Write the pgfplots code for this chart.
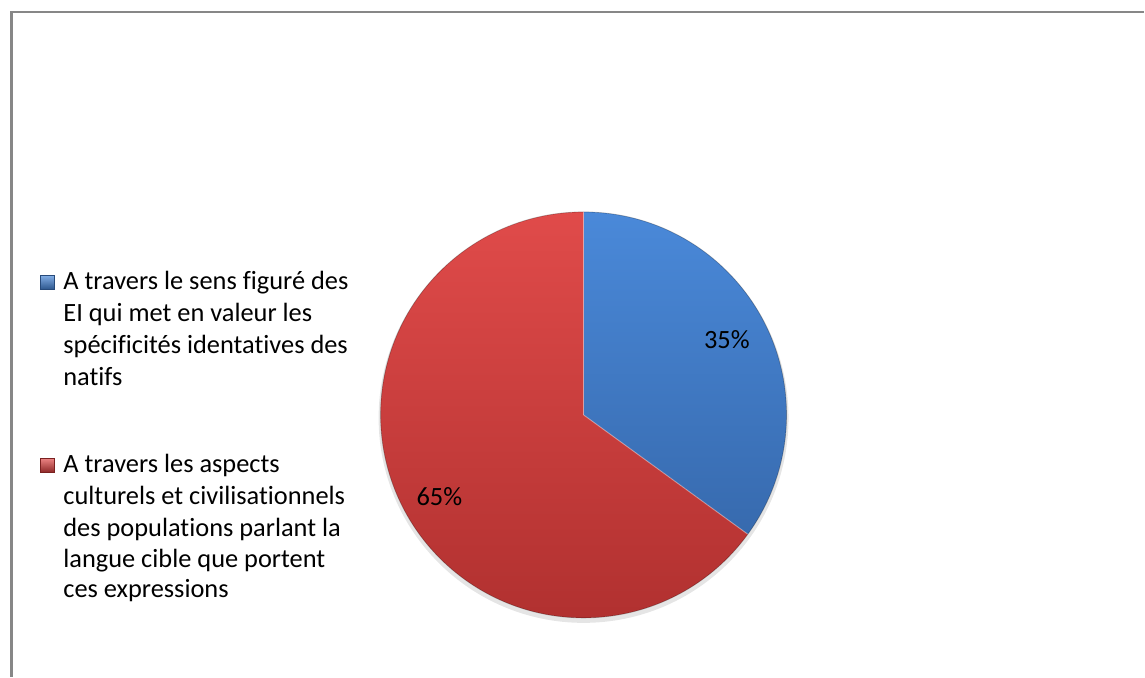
\documentclass[border=0pt]{standalone}
\usepackage{pgfplots}
\pgfplotsset{compat=1.18}
\usepackage{pgfplotstable}
\usepackage{fontspec}
\setmainfont{Carlito}[RawFeature={-liga;-clig;-dlig;-calt}]
\definecolor{framegray}{HTML}{878787}
\definecolor{bluetop}{HTML}{4A89D9}
\definecolor{bluebot}{HTML}{376AAE}
\definecolor{redtop}{HTML}{E04B4A}
\definecolor{redbot}{HTML}{AE2F2E}
\pgfplotstableread{
idx value
0 35
1 65
}\piedata
\begin{document}
\pgfplotstablegetelem{0}{value}\of\piedata \let\va\pgfplotsretval
\pgfplotstablegetelem{1}{value}\of\piedata \let\vb\pgfplotsretval
\pgfmathsetmacro{\aEnd}{90-3.6*\va}
\pgfmathsetmacro{\bEnd}{\aEnd-3.6*\vb}
\begin{tikzpicture}
\begin{axis}[scale only axis, width=1145bp, height=680bp,
  xmin=0, xmax=1145, ymin=0, ymax=680, hide axis, clip=false]
\path (axis cs:0,0) rectangle (axis cs:1145,680);
% frame
\draw[framegray, line width=2.5bp] (axis cs:7,0) -- (axis cs:7,668) -- (axis cs:1145,668);
% shadow
\fill[black, opacity=0.10] (axis cs:582,260) circle[radius=206bp];
% blue wedge
\shade[top color=bluetop, bottom color=bluebot]
  (axis cs:582,263) -- ++(90:204bp) arc[start angle=90, end angle=\aEnd, radius=204bp] -- cycle;
% red wedge
\shade[top color=redtop, bottom color=redbot]
  (axis cs:582,263) -- ++(\aEnd:204bp) arc[start angle=\aEnd, end angle=\bEnd, radius=204bp] -- cycle;
% separators highlight
\draw[white, opacity=0.35, line width=1bp] (axis cs:582,263) -- ++(90:204bp);
\draw[white, opacity=0.35, line width=1bp] (axis cs:582,263) -- ++(\aEnd:204bp);
\draw[black, opacity=0.25, line width=0.8bp] (axis cs:582,263) circle[radius=204bp];
% labels
\node[anchor=base, font=\fontsize{26.5bp}{32bp}\selectfont] at (axis cs:726,330) {\va\%};
\node[anchor=base, font=\fontsize{26.5bp}{32bp}\selectfont] at (axis cs:437,172) {\vb\%};
% legend markers
\shade[top color=bluetop!70!white, bottom color=bluebot!80!black, draw=bluebot!70!black, line width=0.4bp]
  (axis cs:36,389) rectangle (axis cs:50,403);
\shade[top color=redtop!70!white, bottom color=redbot!80!black, draw=redbot!70!black, line width=0.4bp]
  (axis cs:36,205) rectangle (axis cs:50,219);
% legend text
\begin{scope}[every node/.style={anchor=base west, inner sep=0pt, font=\fontsize{26.5bp}{32bp}\selectfont}]
\node at (axis cs:59,389) {A travers le sens figuré des};
\node at (axis cs:59,357) {EI qui met en valeur les};
\node at (axis cs:59,325) {spécificités identatives des};
\node at (axis cs:59,293) {natifs};
\node at (axis cs:59,205) {A travers les aspects};
\node at (axis cs:59,173) {culturels et civilisationnels};
\node at (axis cs:59,141) {des populations parlant la};
\node at (axis cs:59,110) {langue cible que portent};
\node at (axis cs:59,79) {ces expressions};
\end{scope}
\end{axis}
\end{tikzpicture}
\end{document}
